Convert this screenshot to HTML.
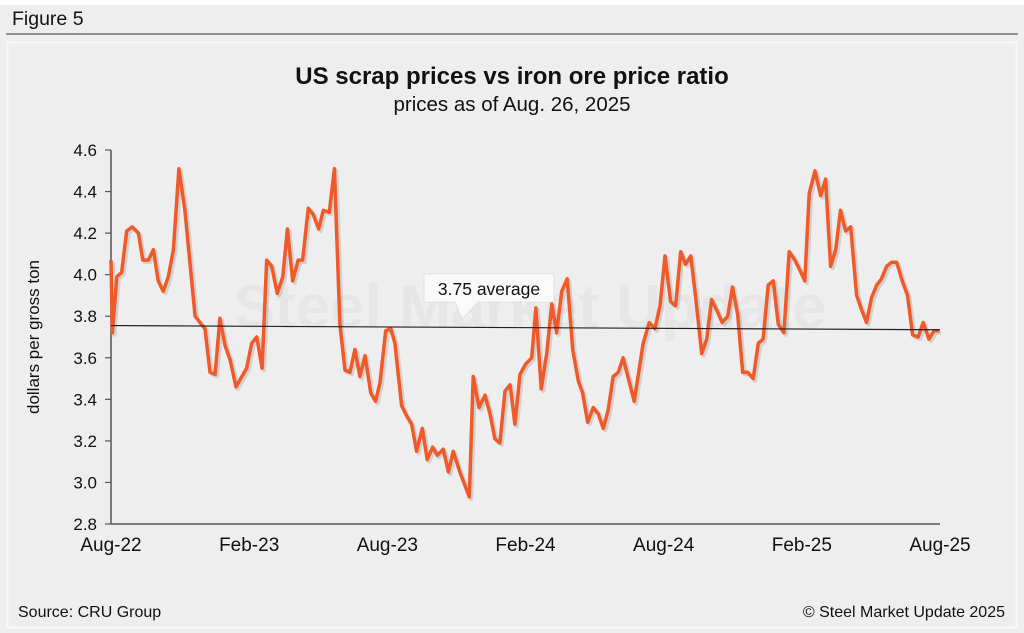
<!DOCTYPE html>
<html><head><meta charset="utf-8"><style>
body{margin:0;background:#fff;font-family:"Liberation Sans",sans-serif}
#wrap{position:relative;width:1024px;height:633px;background:#eeeeee;overflow:hidden}
</style></head><body>
<div id="wrap">
<svg id="chart" width="1024" height="633" xmlns="http://www.w3.org/2000/svg" font-family="Liberation Sans, sans-serif">
<rect x="0" y="0" width="1024" height="5" fill="#ffffff"/>
<text x="12" y="25" font-size="19.5" fill="#111">Figure 5</text>
<line x1="6" y1="34" x2="1018" y2="34" stroke="#333" stroke-width="1"/>
<rect x="7.5" y="42.5" width="1009" height="585" fill="#eeeeee" stroke="#f8f8f8" stroke-width="2"/>
<text x="512" y="84" font-size="24" font-weight="bold" text-anchor="middle" fill="#111">US scrap prices vs iron ore price ratio</text>
<text x="512" y="111" font-size="20.5" text-anchor="middle" fill="#111">prices as of Aug. 26, 2025</text>
<text transform="translate(39,337) rotate(-90)" font-size="17" text-anchor="middle" fill="#111">dollars per gross ton</text>
<text x="18" y="617" font-size="16" fill="#111">Source: CRU Group</text>
<text x="1005" y="617" font-size="16" text-anchor="end" fill="#111">© Steel Market Update 2025</text>
<g id="axes"></g>
<g id="series"></g>
</svg>
</div>
<script>
const yTicks=[2.8,3.0,3.2,3.4,3.6,3.8,4.0,4.2,4.4,4.6];
const xTickLabels=["Aug-22","Feb-23","Aug-23","Feb-24","Aug-24","Feb-25","Aug-25"];
const xTickMonths=[0,6,12,18,24,30,36];
const averageValue=3.75;
const months=[0,0.06,0.25,0.46,0.68,0.92,1.19,1.38,1.62,1.84,2.05,2.27,2.49,2.71,2.95,3.21,3.65,3.86,4.08,4.30,4.52,4.73,4.95,5.17,5.43,5.89,6.11,6.33,6.56,6.76,6.98,7.22,7.46,7.66,7.89,8.13,8.32,8.57,8.78,9.02,9.22,9.48,9.70,9.94,10.16,10.38,10.59,10.81,11.03,11.28,11.49,11.68,11.93,12.15,12.33,12.62,12.84,13.06,13.27,13.52,13.73,13.97,14.17,14.43,14.65,14.86,15.15,15.56,15.73,15.98,16.24,16.46,16.67,16.89,17.11,17.33,17.54,17.76,18.01,18.27,18.45,18.68,18.92,19.14,19.35,19.57,19.81,20.05,20.29,20.48,20.70,20.94,21.16,21.38,21.59,21.81,22.03,22.24,22.72,23.11,23.37,23.62,23.84,24.06,24.30,24.52,24.74,24.95,25.18,25.40,25.65,25.87,26.08,26.30,26.54,26.78,26.99,27.21,27.43,27.65,27.89,28.11,28.32,28.54,28.76,28.98,29.22,29.45,29.70,29.92,30.13,30.32,30.57,30.82,31.03,31.25,31.47,31.68,31.90,32.12,32.38,32.60,32.81,33.03,33.25,33.46,33.68,33.90,34.12,34.36,34.59,34.81,35.05,35.27,35.52,35.74,35.97];
const ratios=[4.07,3.72,3.99,4.01,4.21,4.23,4.20,4.07,4.07,4.12,3.97,3.92,3.99,4.12,4.51,4.31,3.80,3.77,3.74,3.53,3.52,3.79,3.66,3.59,3.46,3.55,3.67,3.70,3.55,4.07,4.04,3.91,3.99,4.22,3.97,4.07,4.07,4.32,4.29,4.22,4.31,4.30,4.51,3.76,3.54,3.53,3.64,3.51,3.61,3.43,3.39,3.48,3.73,3.74,3.67,3.37,3.32,3.28,3.15,3.26,3.11,3.17,3.13,3.16,3.05,3.15,3.05,2.93,3.51,3.36,3.42,3.33,3.21,3.19,3.44,3.47,3.28,3.52,3.57,3.60,3.84,3.45,3.62,3.86,3.72,3.92,3.98,3.64,3.49,3.43,3.29,3.36,3.33,3.26,3.35,3.51,3.53,3.60,3.39,3.67,3.77,3.74,3.85,4.09,3.87,3.85,4.11,4.05,4.09,3.88,3.62,3.69,3.88,3.83,3.77,3.80,3.94,3.81,3.53,3.53,3.50,3.67,3.69,3.95,3.97,3.76,3.72,4.11,4.07,4.02,3.97,4.39,4.50,4.38,4.46,4.04,4.12,4.31,4.21,4.23,3.90,3.83,3.77,3.89,3.95,3.98,4.04,4.06,4.06,3.97,3.90,3.71,3.70,3.77,3.69,3.73,3.73];

const NS="http://www.w3.org/2000/svg";
const X0=111,X1=940,Y0=524,Y1=150;
function xScale(m){return X0+(X1-X0)*m/36;}
function yScale(v){return Y0-(v-2.8)/(4.6-2.8)*(Y0-Y1);}
function mk(tag,attrs,parent){const e=document.createElementNS(NS,tag);for(const k in attrs)e.setAttribute(k,attrs[k]);parent.appendChild(e);return e;}
const axes=document.getElementById('axes'),series=document.getElementById('series');

const ya=mk('line',{x1:X0,y1:Y1,x2:X0,y2:Y0,stroke:'#555','stroke-width':1.5},axes);


const xa=mk('line',{x1:X0,y1:Y0,x2:X1,y2:Y0,stroke:'#555','stroke-width':1.5},axes);


yTicks.forEach(v=>{
  const y=yScale(v);
  mk('line',{x1:X0-6,y1:y,x2:X0,y2:y,stroke:'#555','stroke-width':1.2},axes);
  const t=mk('text',{x:X0-14,y:y+6,'font-size':17,'text-anchor':'end',fill:'#111'},axes);
  t.textContent=v.toFixed(1);
  
  
});
xTickLabels.forEach((lab,i)=>{
  const t=mk('text',{x:xScale(xTickMonths[i]),y:551,'font-size':19,'text-anchor':'middle',fill:'#111'},axes);
  t.textContent=lab;
  
  
});

const wm=mk('text',{x:530,y:328,'font-size':62,'font-weight':'bold','text-anchor':'middle',fill:'#e6e6e6'},series);
wm.textContent='Steel Market Update';



const pts=months.map((m,i)=>xScale(m).toFixed(1)+','+yScale(ratios[i]).toFixed(1)).join(' ');
mk('polyline',{points:pts,fill:'none',stroke:'rgba(0,0,0,0.12)','stroke-width':4,'stroke-linejoin':'round',transform:'translate(2,2)'},series);
const line=mk('polyline',{points:pts,fill:'none',stroke:'#ef5a28','stroke-width':3.5,'stroke-linejoin':'round'},series);



const avg=mk('line',{x1:X0,y1:yScale(averageValue+0.005),x2:X1,y2:yScale(averageValue-0.015),stroke:'#222','stroke-width':1.2},series);



const cg=mk('g',{},series);


mk('path',{d:'M424,274 H554 V302 H478 L462,319 L455,302 H424 Z',fill:'#fafafa',stroke:'#ddd','stroke-width':0.8},cg);
const ct=mk('text',{x:489,y:295,'font-size':17.5,'text-anchor':'middle',fill:'#111'},cg);
ct.textContent='3.75 average';
</script>
</body></html>
